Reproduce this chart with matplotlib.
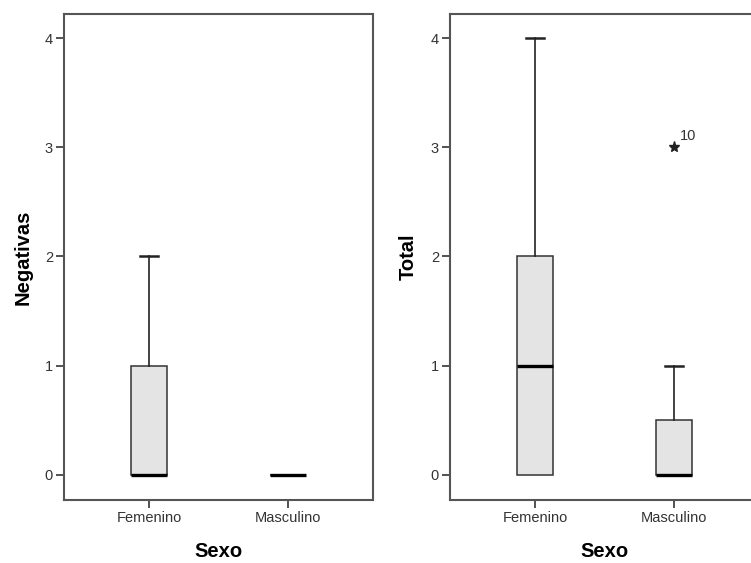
import matplotlib
matplotlib.use('Agg')
import matplotlib.pyplot as plt

# data (box summaries)
categories = ['Femenino', 'Masculino']

neg_q1 = [0, 0]
neg_med = [0, 0]
neg_q3 = [1, 0]
neg_lo = [0, 0]
neg_hi = [2, 0]

tot_q1 = [0, 0]
tot_med = [1, 0]
tot_q3 = [2, 0.5]
tot_lo = [0, 0]
tot_hi = [4, 1]
tot_fliers = [[], [3]]
tot_flier_ids = [[], ['10']]

yticks = [0, 1, 2, 3, 4]

plt.rc('font', family=['Liberation Sans', 'DejaVu Sans'])

fig = plt.figure(figsize=(7.51, 5.63), dpi=100)
ax1 = fig.add_axes([64 / 751, 1 - 500 / 563, 309 / 751, 486 / 563])
ax2 = fig.add_axes([450 / 751, 1 - 500 / 563, 309 / 751, 486 / 563])


def draw(ax, q1, med, q3, lo, hi, fliers, ylabel):
    stats = []
    for i in range(len(categories)):
        stats.append(dict(q1=q1[i], med=med[i], q3=q3[i], whislo=lo[i],
                          whishi=hi[i], fliers=fliers[i], label=categories[i]))
    parts = ax.bxp(stats, positions=range(len(categories)), widths=0.255,
                   patch_artist=True, showfliers=True,
                   boxprops=dict(facecolor='#e4e4e4', edgecolor='#333333', linewidth=1.1),
                   medianprops=dict(color='black', linewidth=2.4, solid_capstyle='butt'),
                   whiskerprops=dict(color='#222222', linewidth=1.2),
                   capprops=dict(color='#222222', linewidth=1.8),
                   capwidths=0.125,
                   flierprops=dict(marker='*', markersize=8, markerfacecolor='#222222',
                                   markeredgecolor='#222222', linestyle='none'))
    # whisker ends that sit on the box edge are not drawn (SPSS style)
    for i in range(len(categories)):
        if lo[i] == q1[i]:
            parts['caps'][2 * i].set_visible(False)
        if hi[i] == q3[i]:
            parts['caps'][2 * i + 1].set_visible(False)
    ax.set_xlim(-0.614, 1.614)
    ax.set_ylim(-0.23, 4.22)
    ax.set_yticks(yticks)
    ax.set_yticklabels([str(v) for v in yticks])
    ax.set_xticks(range(len(categories)))
    ax.set_xticklabels(categories)
    for s in ['top', 'bottom', 'left', 'right']:
        ax.spines[s].set_color('#555555')
        ax.spines[s].set_linewidth(1.5)
    ax.tick_params(axis='both', direction='out', length=6, width=1.3,
                   color='#444444', labelcolor='#333333', labelsize=10.5, pad=2)
    ax.set_xlabel('Sexo', fontsize=14.5, fontweight='bold', labelpad=12)
    ax.set_ylabel(ylabel, fontsize=14.5, fontweight='bold', labelpad=9)


no_fliers = [[], []]
draw(ax1, neg_q1, neg_med, neg_q3, neg_lo, neg_hi, no_fliers, 'Negativas')
draw(ax2, tot_q1, tot_med, tot_q3, tot_lo, tot_hi, tot_fliers, 'Total')

# case id next to the extreme value
for i, (vals, ids) in enumerate(zip(tot_fliers, tot_flier_ids)):
    for v, lab in zip(vals, ids):
        ax2.annotate(lab, (i, v), xytext=(4, 3), textcoords='offset points',
                     fontsize=10.5, color='#333333', ha='left', va='bottom')

fig.savefig('out.png', dpi=100)
